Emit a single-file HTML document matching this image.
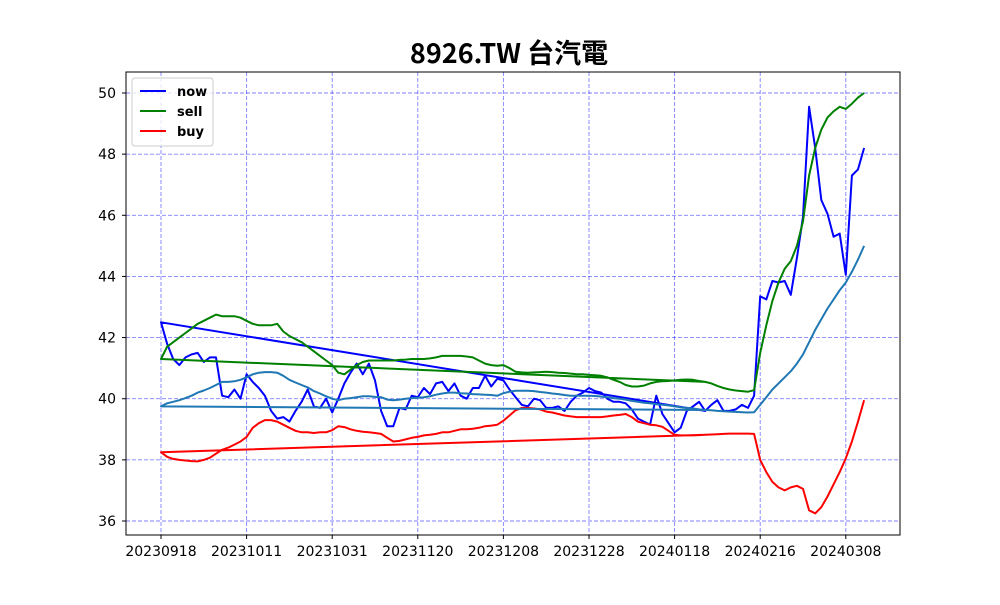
<!DOCTYPE html>
<html><head><meta charset="utf-8">
<style>
body{margin:0;background:#fff;}
svg text{font-family:"DejaVu Sans","Liberation Sans","Noto Sans CJK TC",sans-serif;}
</style></head>
<body>
<svg id="chart" width="1000" height="600" viewBox="0 0 1000 600" xmlns="http://www.w3.org/2000/svg">
<rect width="1000" height="600" fill="#fff"/>
<text x="509" y="63" text-anchor="middle" font-size="27" font-weight="bold" style="font-family:'Noto Sans CJK TC','Noto Sans CJK SC',sans-serif">8926.TW 台汽電</text>
<g id="grid"></g>
<g id="series"></g>
<rect x="126" y="72" width="774" height="463" fill="none" stroke="#000" stroke-width="1"/>
<g id="axes"></g>
<g>
<rect x="132" y="78" width="81" height="68" rx="3" fill="#fff" fill-opacity="0.8" stroke="#ccc"/>
<g><line x1="140" y1="91" x2="166" y2="91" stroke="#0000ff" stroke-width="2"/><text x="177" y="96" font-size="13" font-weight="bold">now</text></g>
<g><line x1="140" y1="111" x2="166" y2="111" stroke="#008000" stroke-width="2"/><text x="177" y="116" font-size="13" font-weight="bold">sell</text></g>
<g><line x1="140" y1="131" x2="166" y2="131" stroke="#ff0000" stroke-width="2"/><text x="177" y="136" font-size="13" font-weight="bold">buy</text></g>
</g>
</svg>
<script>
const tickLabels=["20230918","20231011","20231031","20231120","20231208","20231228","20240118","20240216","20240308"];
const tickIndex=[0,14,28,42,56,70,84,98,112];
const yTicks=[36,38,40,42,44,46,48,50];
const wrapStart=89;
const nowVals=[42.5,41.8,41.3,41.1,41.35,41.45,41.5,41.2,41.35,41.35,40.1,40.05,40.3,40.0,40.8,40.55,40.35,40.1,39.6,39.35,39.4,39.25,39.6,39.9,40.3,39.75,39.7,40.0,39.55,40.0,40.5,40.85,41.15,40.8,41.15,40.6,39.6,39.1,39.1,39.7,39.65,40.1,40.05,40.35,40.15,40.5,40.55,40.25,40.5,40.1,40.0,40.35,40.35,40.75,40.4,40.65,40.6,40.3,40.05,39.8,39.75,40.0,39.95,39.7,39.7,39.75,39.6,39.9,40.1,40.2,40.35,40.25,40.2,40.0,39.9,39.9,39.85,39.65,39.35,39.25,39.15,40.1,39.5,39.2,38.9,39.05,39.6,39.75,39.9,39.6,39.8,39.95,39.6,39.6,39.65,39.8,39.7,40.1,43.35,43.25,43.85,43.8,43.85,43.4,44.6,45.95,49.55,48.2,46.5,46.05,45.3,45.4,44.05,47.3,47.5,48.2];
const sellVals=[41.3,41.7,41.85,42.0,42.15,42.3,42.45,42.55,42.65,42.75,42.7,42.7,42.7,42.65,42.55,42.45,42.4,42.4,42.4,42.45,42.2,42.05,41.95,41.85,41.7,41.55,41.4,41.25,41.1,40.85,40.8,40.95,41.1,41.2,41.25,41.25,41.25,41.25,41.25,41.27,41.28,41.3,41.3,41.3,41.32,41.35,41.4,41.4,41.4,41.4,41.38,41.35,41.25,41.15,41.1,41.08,41.1,41.0,40.88,40.86,40.85,40.86,40.87,40.88,40.87,40.85,40.84,40.82,40.8,40.8,40.78,40.77,40.75,40.7,40.62,40.55,40.45,40.4,40.4,40.43,40.5,40.55,40.57,40.58,40.6,40.62,40.63,40.62,40.58,40.55,40.5,40.42,40.35,40.3,40.27,40.25,40.23,40.28,41.5,42.4,43.2,43.8,44.25,44.5,45.0,45.8,47.3,48.2,48.8,49.2,49.4,49.55,49.48,49.65,49.85,50.0];
const buyVals=[38.25,38.1,38.03,38.0,37.98,37.96,37.95,38.0,38.07,38.2,38.33,38.4,38.5,38.6,38.75,39.05,39.2,39.3,39.3,39.25,39.15,39.05,38.95,38.9,38.9,38.88,38.9,38.9,38.97,39.1,39.07,39.0,38.95,38.92,38.9,38.88,38.85,38.72,38.6,38.62,38.67,38.72,38.75,38.8,38.82,38.85,38.9,38.9,38.95,39.0,39.0,39.02,39.05,39.1,39.12,39.15,39.28,39.45,39.62,39.7,39.7,39.68,39.65,39.58,39.55,39.5,39.45,39.42,39.4,39.4,39.4,39.4,39.4,39.42,39.45,39.47,39.5,39.4,39.25,39.2,39.15,39.13,39.08,38.95,38.82,38.8,38.8,38.8,38.81,38.82,38.83,38.84,38.85,38.86,38.86,38.86,38.86,38.85,38.0,37.6,37.28,37.1,37.0,37.1,37.15,37.05,36.35,36.25,36.45,36.8,37.2,37.6,38.05,38.6,39.25,39.95];
const avgVals=[39.75,39.85,39.9,39.95,40.02,40.1,40.2,40.27,40.35,40.45,40.55,40.55,40.57,40.62,40.7,40.8,40.85,40.87,40.87,40.85,40.75,40.62,40.53,40.45,40.37,40.25,40.17,40.08,40.0,39.95,40.0,40.02,40.05,40.08,40.08,40.06,40.05,39.97,39.95,39.97,40.0,40.02,40.03,40.05,40.08,40.13,40.17,40.2,40.2,40.18,40.17,40.15,40.14,40.13,40.12,40.1,40.18,40.23,40.26,40.26,40.26,40.25,40.22,40.2,40.17,40.15,40.12,40.1,40.1,40.1,40.1,40.09,40.07,40.05,40.02,40.0,39.97,39.93,39.9,39.87,39.85,39.82,39.8,39.78,39.75,39.72,39.7,39.68,39.65,39.63,39.62,39.6,39.59,39.58,39.57,39.56,39.55,39.56,39.8,40.05,40.3,40.5,40.7,40.9,41.15,41.45,41.85,42.25,42.6,42.95,43.25,43.55,43.8,44.15,44.55,45.0];

const NS="http://www.w3.org/2000/svg";
const X0=161, DX=85.6/14, YBASE=521, YV=36, PY=(521-93)/14;
function sx(i){return X0+i*DX;}
function sy(v){return YBASE-(v-YV)*PY;}
function mk(tag,attrs,parent){const e=document.createElementNS(NS,tag);for(const k in attrs)e.setAttribute(k,attrs[k]);parent.appendChild(e);return e;}
const grid=document.getElementById('grid'), axes=document.getElementById('axes'), ser=document.getElementById('series');
tickIndex.forEach((ti,k)=>{
  const x=sx(ti);
  const g=mk('line',{x1:x,y1:72,x2:x,y2:535,stroke:'#0000ff','stroke-opacity':0.5,'stroke-dasharray':'4,2','stroke-width':0.9},grid);
  
  
  const t=mk('line',{x1:x,y1:535,x2:x,y2:539,stroke:'#000'},axes);
  
  
  const l=mk('text',{x:x,y:556,'text-anchor':'middle','font-size':14},axes);
  l.textContent=tickLabels[k];
  
  
});
yTicks.forEach(v=>{
  const y=sy(v);
  const g=mk('line',{x1:126,y1:y,x2:900,y2:y,stroke:'#0000ff','stroke-opacity':0.5,'stroke-dasharray':'4,2','stroke-width':0.9},grid);
  
  
  const t=mk('line',{x1:122,y1:y,x2:126,y2:y,stroke:'#000'},axes);
  
  
  const l=mk('text',{x:116,y:y+5,'text-anchor':'end','font-size':14},axes);
  l.textContent=String(v);
  
  
});
function drawSeries(vals,color,name){
  const pts=[[sx(wrapStart),sy(vals[wrapStart])]];
  vals.forEach((v,i)=>pts.push([sx(i),sy(v)]));
  const p=mk('polyline',{points:pts.map(p=>p[0].toFixed(1)+','+p[1].toFixed(1)).join(' '),fill:'none',stroke:color,'stroke-width':2,'stroke-linejoin':'round'},ser);
  
  
}
drawSeries(nowVals,'#0000ff','now-line');
drawSeries(sellVals,'#008000','sell-line');
drawSeries(buyVals,'#ff0000','buy-line');
drawSeries(avgVals,'#1f77b4','average-line');
</script>
</body></html>
